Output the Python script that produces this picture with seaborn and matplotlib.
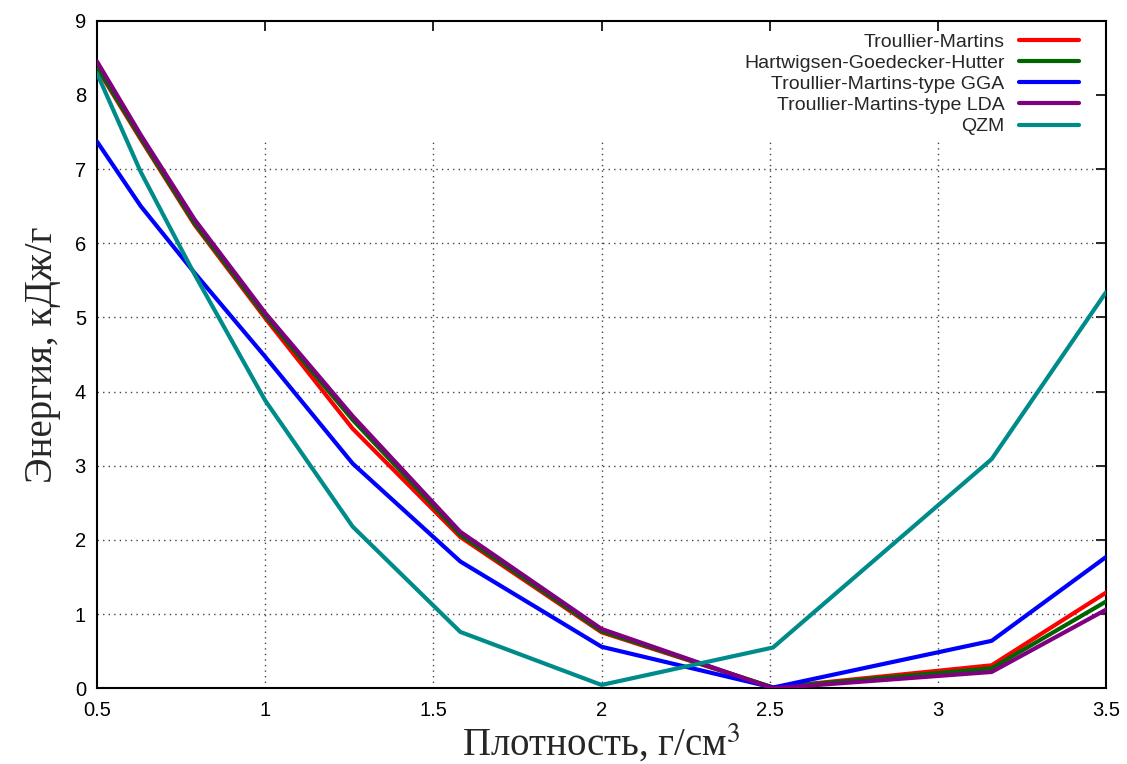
import matplotlib
matplotlib.use("Agg")
import matplotlib.pyplot as plt
import seaborn as sns
import pandas as pd

# ---- data ----
density = [0.5, 0.63, 0.79, 1.0, 1.26, 1.58, 2.0, 2.51, 3.16, 3.5]
tm      = [8.36, 7.40, 6.25, 4.99, 3.50, 2.04, 0.755, 0.01, 0.31, 1.29]
hgh     = [8.38, 7.42, 6.27, 5.02, 3.62, 2.07, 0.77, 0.01, 0.27, 1.17]
tm_gga  = [7.37, 6.50, 5.60, 4.47, 3.03, 1.71, 0.56, 0.01, 0.64, 1.77]
tm_lda  = [8.45, 7.46, 6.32, 5.06, 3.67, 2.11, 0.80, 0.00, 0.22, 1.06]
qzm     = [8.29, 6.96, 5.58, 3.88, 2.18, 0.76, 0.045, 0.55, 3.09, 5.34]

series_names = ["Troullier-Martins", "Hartwigsen-Goedecker-Hutter",
                "Troullier-Martins-type GGA", "Troullier-Martins-type LDA", "QZM"]
series_values = [tm, hgh, tm_gga, tm_lda, qzm]
colors = ["#ff0000", "#006400", "#0000ff", "#800080", "#008b8b"]

x_ticks = [0.5, 1, 1.5, 2, 2.5, 3, 3.5]
x_tick_labels = ["0.5", "1", "1.5", "2", "2.5", "3", "3.5"]
y_ticks = [0, 1, 2, 3, 4, 5, 6, 7, 8, 9]

xlabel = "Плотность, г/см$^3$"
ylabel = "Энергия, кДж/г"

rows = []
for name, vals in zip(series_names, series_values):
    for xv, yv in zip(density, vals):
        rows.append({"density": xv, "energy": yv, "series": name})
df = pd.DataFrame(rows)

sns.set_theme(style="white")
plt.rcParams["font.family"] = ["Liberation Sans", "DejaVu Sans"]
plt.rcParams["mathtext.fontset"] = "stix"

fig = plt.figure(figsize=(11.27, 7.64), dpi=100)
ax = fig.add_axes([0.0861, 0.0991, 0.8953, 0.8738])

sns.lineplot(data=df, x="density", y="energy", hue="series", hue_order=series_names,
             palette=colors, linewidth=3.0, ax=ax, sort=False, estimator=None, zorder=3)

ax.set_xlim(0.5, 3.5)
ax.set_ylim(0, 9)
ax.set_xticks(x_ticks)
ax.set_xticklabels(x_tick_labels)
ax.set_yticks(y_ticks)

# grid (hidden under the key area at the top)
legend_floor = 7.42
for yv in y_ticks:
    if 0 < yv < legend_floor:
        ax.axhline(yv, color="#444444", lw=1.0, ls=(0, (1, 3)), zorder=1)
for xv in x_ticks[1:-1]:
    ax.axvline(xv, ymin=0, ymax=legend_floor / 9.0, color="#444444", lw=1.0,
               ls=(0, (1, 3)), zorder=1)

ax.tick_params(direction="in", length=7, width=1.2, top=True, right=True,
               labelsize=14.5, pad=8, colors="black")
ax.tick_params(axis="x", pad=9)
for s in ax.spines.values():
    s.set_linewidth(1.5)
    s.set_color("black")

ax.set_xlabel(xlabel, fontsize=28, family=["Liberation Serif", "DejaVu Serif"], labelpad=2)
ax.set_ylabel(ylabel, fontsize=28, family=["Liberation Serif", "DejaVu Serif"], labelpad=10)

leg = ax.legend(loc="upper right", bbox_to_anchor=(0.986, 1.0), frameon=False,
                markerfirst=False, fontsize=14,
                handlelength=3.1, handletextpad=0.75, labelspacing=0.18,
                borderaxespad=0.35, borderpad=0.3)
for t in leg.get_texts():
    t.set_ha("right")
leg._legend_box.align = "right"

fig.savefig("out.png", dpi=100)
